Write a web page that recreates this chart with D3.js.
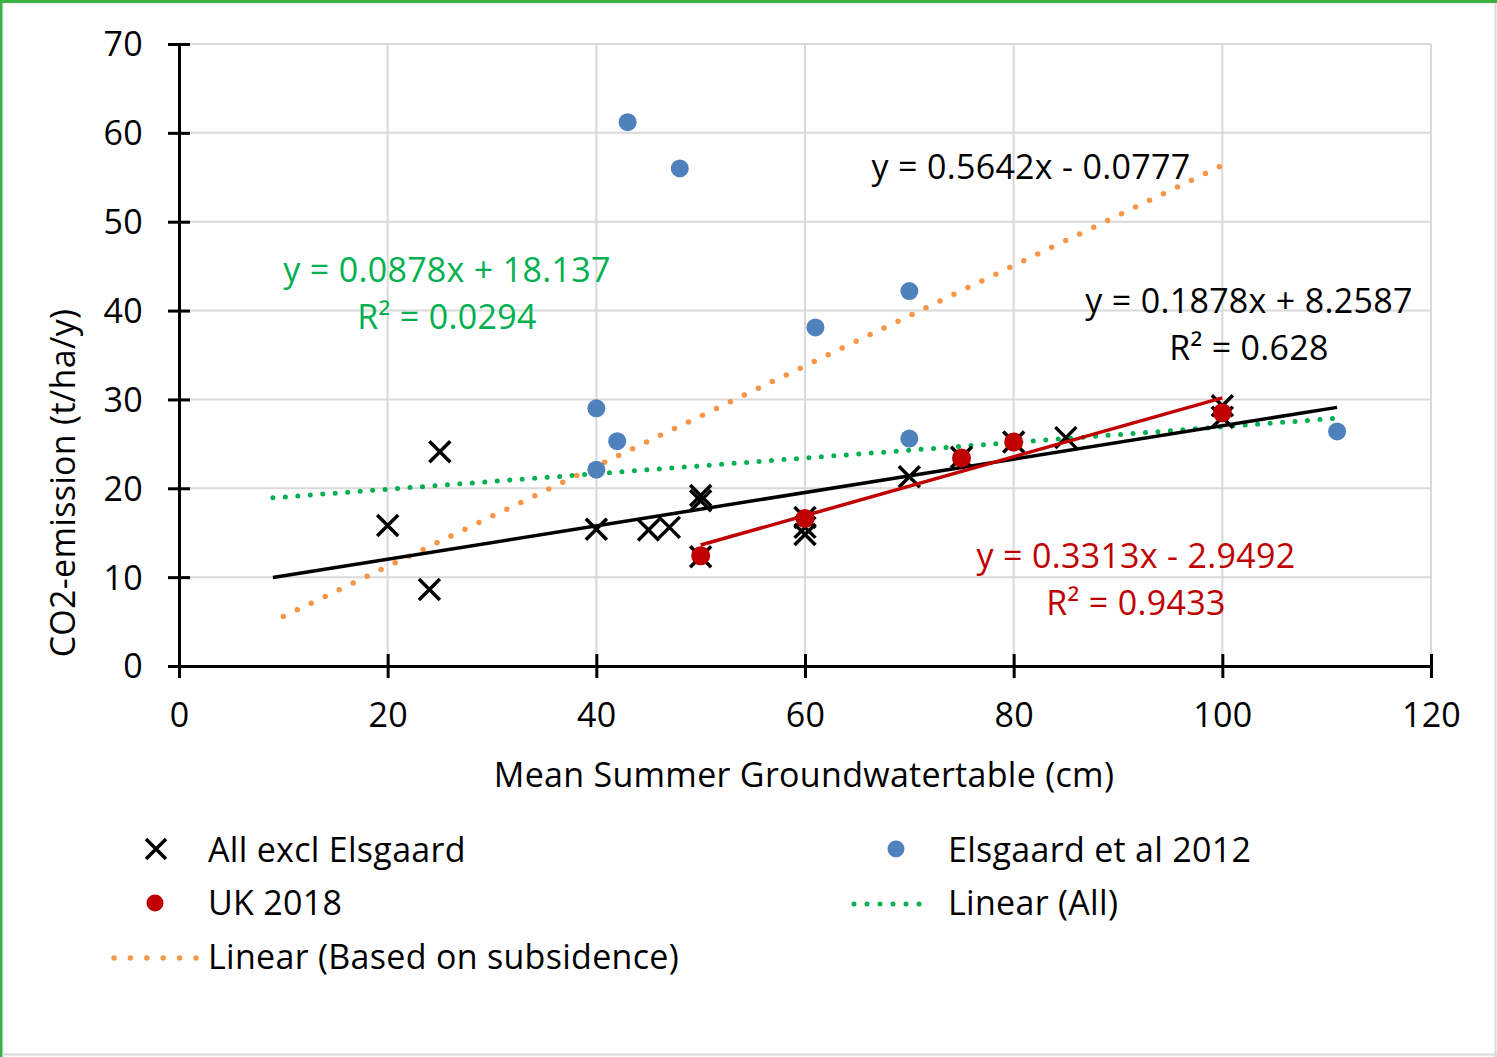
<!DOCTYPE html>
<html>
<head>
<meta charset="utf-8">
<script src="https://cdn.jsdelivr.net/npm/d3@7"></script>
<style>
  html, body { margin: 0; padding: 0; background: #fff; }
  svg { display: block; }
  text { font-family: "Open Sans", Lato, sans-serif; letter-spacing: 0.3px; }
</style>
</head>
<body>
<svg id="chart" width="1497" height="1057"></svg>
<script>
// Groundwater table depth (cm) vs CO2 emission (t/ha/y)
const allExclX = [20, 25, 24, 40, 45, 47, 50, 50, 50, 60, 60, 60, 70, 75, 80, 85, 100, 100];
const allExclY = [15.8, 24.1, 8.6, 15.4, 15.3, 15.6, 19.2, 18.6, 12.3, 16.7, 15.6, 14.8, 21.3, 23.5, 25.2, 25.7, 29.3, 28.0];

const ukX = [50, 60, 75, 80, 100];
const ukY = [12.4, 16.6, 23.4, 25.2, 28.5];

const elsX = [43, 48, 70, 61, 40, 42, 40, 70, 111];
const elsY = [61.2, 56.0, 42.2, 38.1, 29.0, 25.3, 22.1, 25.6, 26.4];

// Trendlines: slope, intercept, x-range
const trendSubsidence = { slope: 0.5642, intercept: -0.0777, from: 10, to: 100 };
const trendAll        = { slope: 0.0878, intercept: 18.137, from: 9, to: 111 };
const trendAllExcl    = { slope: 0.1878, intercept: 8.2587, from: 9, to: 111 };
const trendUK         = { slope: 0.3313, intercept: -2.9492, from: 50, to: 100 };

const xTicks = [0, 20, 40, 60, 80, 100, 120];
const yTicks = [0, 10, 20, 30, 40, 50, 60, 70];

const labels = {
  xTitle: "Mean Summer Groundwatertable (cm)",
  yTitle: "CO2-emission (t/ha/y)",
  eqSubsidence: "y = 0.5642x - 0.0777",
  eqAll: ["y = 0.0878x + 18.137", "R² = 0.0294"],
  eqAllExcl: ["y = 0.1878x + 8.2587", "R² = 0.628"],
  eqUK: ["y = 0.3313x - 2.9492", "R² = 0.9433"]
};

const colors = {
  cross: "#000000",
  uk: "#c00000",
  els: "#4f81bd",
  green: "#00b050",
  orange: "#f79646",
  grid: "#d9d9d9"
};

const FS = 34;

const svg = d3.select("#chart");

// frame
svg.append("rect").attr("x", 0).attr("y", 0).attr("width", 1497).attr("height", 1057).attr("fill", "#fff");
svg.append("line").attr("x1", 1).attr("x2", 1497).attr("y1", 1.5).attr("y2", 1.5).attr("stroke", "#3cb043").attr("stroke-width", 3);
svg.append("line").attr("x1", 1).attr("x2", 1).attr("y1", 0).attr("y2", 1057).attr("stroke", "#3cb043").attr("stroke-width", 3);
svg.append("line").attr("x1", 1495.5).attr("x2", 1495.5).attr("y1", 3).attr("y2", 1057).attr("stroke", "#d9d9d9").attr("stroke-width", 2);
svg.append("line").attr("x1", 3).attr("x2", 1497).attr("y1", 1054.5).attr("y2", 1054.5).attr("stroke", "#d9d9d9").attr("stroke-width", 2);
svg.append("line").attr("x1", 3.5).attr("x2", 3.5).attr("y1", 3).attr("y2", 1054).attr("stroke", "#ececec").attr("stroke-width", 1);
svg.append("line").attr("x1", 3).attr("x2", 1495).attr("y1", 4).attr("y2", 4).attr("stroke", "#ececec").attr("stroke-width", 1);

const x = d3.scaleLinear().domain([0, 120]).range([179, 1431]);
const y = d3.scaleLinear().domain([0, 70]).range([666, 44]);

// gridlines
const grid = svg.append("g");
grid.selectAll("line.h").data(yTicks.filter(d => d > 0)).join("line")
  .attr("x1", x(0)).attr("x2", x(120))
  .attr("y1", d => y(d)).attr("y2", d => y(d))
  .attr("stroke", colors.grid).attr("stroke-width", 2);
grid.selectAll("line.v").data(xTicks.filter(d => d > 0)).join("line")
  .attr("x1", d => x(d)).attr("x2", d => x(d))
  .attr("y1", y(0)).attr("y2", y(70))
  .attr("stroke", colors.grid).attr("stroke-width", 2);

// axes (ticks cross the axis line)
const xAxis = svg.append("g").attr("transform", `translate(0,${y(0)})`)
  .call(d3.axisBottom(x).tickValues(xTicks).tickSize(12).tickSizeOuter(0).tickPadding(25));
xAxis.selectAll(".tick line").attr("y1", -12).attr("stroke-width", 3);
xAxis.select(".domain").attr("stroke-width", 3);
xAxis.selectAll("text").attr("font-size", FS).attr("fill", "#000").attr("font-family", "Open Sans");

const yAxis = svg.append("g").attr("transform", `translate(${x(0)},0)`)
  .call(d3.axisLeft(y).tickValues(yTicks).tickSize(11).tickSizeOuter(0).tickPadding(25));
yAxis.selectAll(".tick line").attr("x1", -11).attr("x2", 11).attr("stroke-width", 3);
yAxis.select(".domain").attr("stroke-width", 3);
yAxis.selectAll("text").attr("font-size", FS).attr("fill", "#000").attr("font-family", "Open Sans").attr("dy", "0.35em");

// axis titles
svg.append("text").attr("x", 804).attr("y", 787).attr("text-anchor", "middle")
  .attr("font-size", FS).text(labels.xTitle);
svg.append("text").attr("transform", `translate(75,483) rotate(-90)`).attr("text-anchor", "middle")
  .attr("font-size", FS).text(labels.yTitle);

// trendlines
function trendPoints(t) {
  return [t.from, t.to].map(v => [x(v), y(t.slope * v + t.intercept)]);
}
const line = d3.line();
svg.append("path").attr("d", line(trendPoints(trendAll))).attr("fill", "none")
  .attr("stroke", colors.green).attr("stroke-width", 5).attr("stroke-linecap", "round").attr("stroke-dasharray", "0 12.5");
svg.append("path").attr("d", line(trendPoints(trendSubsidence))).attr("fill", "none")
  .attr("stroke", colors.orange).attr("stroke-width", 5.5).attr("stroke-linecap", "round").attr("stroke-dasharray", "0 15.5");
svg.append("path").attr("d", line(trendPoints(trendAllExcl))).attr("fill", "none")
  .attr("stroke", "#000").attr("stroke-width", 3.5);

// cross markers
const crossSize = 10.5;
const crossG = svg.append("g");
crossG.selectAll("path").data(allExclX.map((v, i) => [v, allExclY[i]])).join("path")
  .attr("d", d => {
    const cx = x(d[0]), cy = y(d[1]), s = crossSize;
    return `M${cx - s},${cy - s}L${cx + s},${cy + s}M${cx - s},${cy + s}L${cx + s},${cy - s}`;
  })
  .attr("stroke", colors.cross).attr("stroke-width", 3.5).attr("fill", "none");

// Elsgaard points
svg.append("g").selectAll("circle").data(elsX.map((v, i) => [v, elsY[i]])).join("circle")
  .attr("cx", d => x(d[0])).attr("cy", d => y(d[1])).attr("r", 9)
  .attr("fill", colors.els);

// UK trend + points
svg.append("path").attr("d", line(trendPoints(trendUK))).attr("fill", "none")
  .attr("stroke", colors.uk).attr("stroke-width", 3.5);
svg.append("g").selectAll("circle").data(ukX.map((v, i) => [v, ukY[i]])).join("circle")
  .attr("cx", d => x(d[0])).attr("cy", d => y(d[1])).attr("r", 9.5)
  .attr("fill", colors.uk);

// equation labels
function eq(lines, cx, cy, color) {
  const t = svg.append("text").attr("text-anchor", "middle").attr("font-size", FS).attr("fill", color);
  lines.forEach((s, i) => t.append("tspan").attr("x", cx).attr("y", cy + i * 47).text(s));
}
eq([labels.eqSubsidence], 1031, 179, "#000");
eq(labels.eqAll, 447, 282, colors.green);
eq(labels.eqAllExcl, 1249, 313, "#000");
eq(labels.eqUK, 1136, 568, colors.uk);

// legend
const leg = svg.append("g");
const legText = (tx, ty, s) => leg.append("text").attr("x", tx).attr("y", ty).attr("font-size", FS).attr("dy", "0.35em").text(s);
leg.append("path").attr("d", "M146,839L166,859M146,859L166,839").attr("stroke", "#000").attr("stroke-width", 3.5);
legText(208, 850, "All excl Elsgaard");
leg.append("circle").attr("cx", 155).attr("cy", 903).attr("r", 8.5).attr("fill", colors.uk);
legText(208, 903, "UK 2018");
leg.append("line").attr("x1", 114).attr("x2", 196).attr("y1", 958).attr("y2", 958)
  .attr("stroke", colors.orange).attr("stroke-width", 5.5).attr("stroke-linecap", "round").attr("stroke-dasharray", "0 16.4");
legText(208, 957, "Linear (Based on subsidence)");
leg.append("circle").attr("cx", 896).attr("cy", 849).attr("r", 8.5).attr("fill", colors.els);
legText(948, 850, "Elsgaard et al 2012");
leg.append("line").attr("x1", 854).attr("x2", 932).attr("y1", 904).attr("y2", 904)
  .attr("stroke", colors.green).attr("stroke-width", 5).attr("stroke-linecap", "round").attr("stroke-dasharray", "0 13");
legText(948, 903, "Linear (All)");
</script>
</body>
</html>
